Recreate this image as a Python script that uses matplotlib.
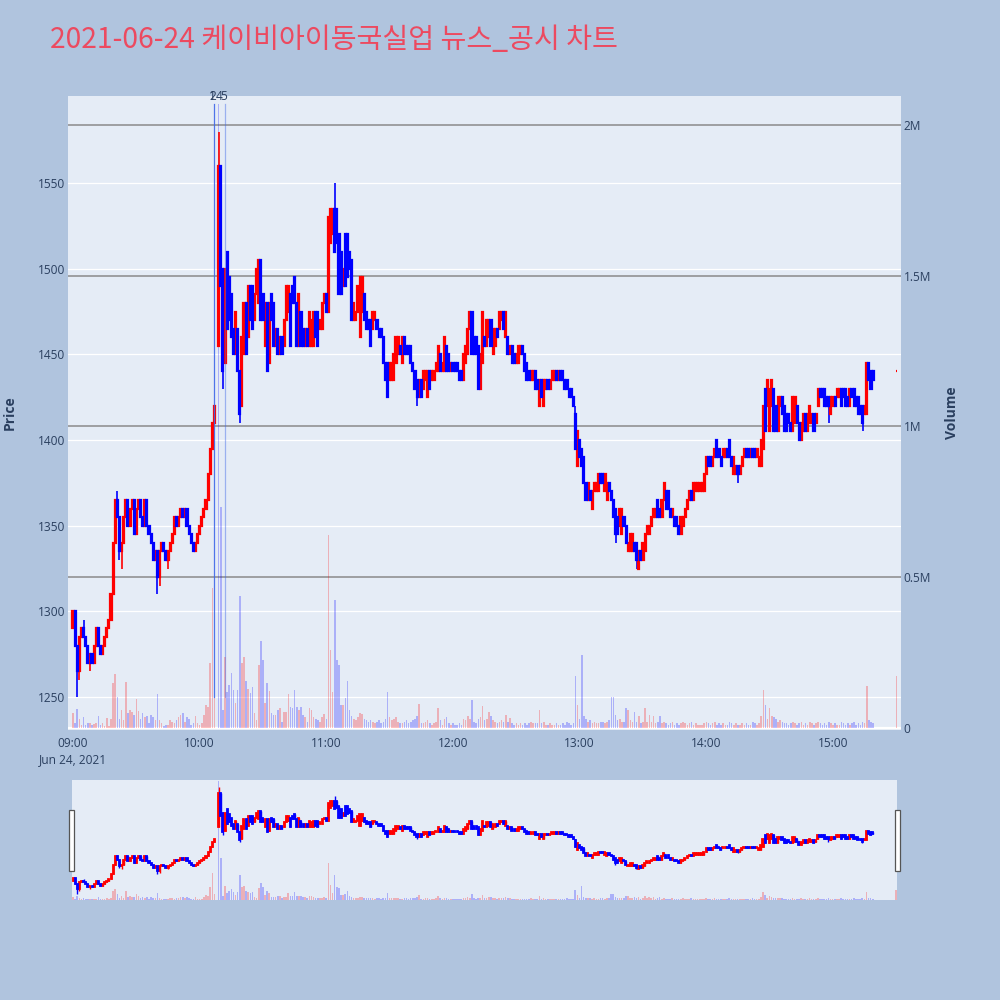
import numpy as np
import matplotlib
matplotlib.use('Agg')
import matplotlib.pyplot as plt
from matplotlib.patches import Rectangle
from matplotlib.transforms import blended_transform_factory

plt.rcParams['font.family'] = ['Open Sans', 'Noto Sans CJK KR', 'DejaVu Sans']

# ---------------- data (1-minute candles, index = minutes after 09:00) ----------------
opens = [
    1290,1300,1280,1265,1285,1290,1285,1280,1270,1275,
    1270,1280,1290,1280,1275,1280,1285,1290,1295,1310,
    1340,1365,1355,1335,1340,1355,1365,1350,1360,1365,
    1345,1360,1365,1355,1350,1365,1350,1345,1340,1330,
    1335,1320,1335,1340,1335,1330,1335,1340,1345,1355,
    1350,1355,1360,1355,1360,1350,1345,1340,1335,1340,
    1345,1350,1355,1360,1365,1380,1395,1410,
    None,
    1455,1560,1500,1445,1510,1495,1485,1465,1450,1465,
    1440,1420,1450,1480,1460,1490,1490,1470,1485,1480,
    1505,1485,1455,1480,1445,1485,1480,1455,1465,1450,
    1460,1455,1470,1475,1485,1490,1495,1480,1455,1475,
    1465,1455,1465,1455,
    1455,1455,1475,1475,1465,1465,1480,1485,1475,1515,
    1520,1535,1535,1520,1510,1490,1520,1520,1510,1505,
    1470,1470,1475,1460,1475,1485,1475,1470,1470,1465,
    1470,1470,1465,1465,1460,1445,1445,1435,1435,1435,
    1445,1450,1455,
    1445,1460,1455,1455,1455,1445,1440,1435,
    1425,1435,1430,1435,1425,1440,1435,1435,1440,1440,
    1450,1440,1440,1455,1450,1440,1445,1445,1445,1440,
    1440,1435,1445,1450,1465,1475,1460,1460,1455,1430,
    1445,1460,1455,1460,1470,1450,1455,1465,1465,1470,
    1475,1460,1460,1450,1455,1450,1445,1445,1450,1455,
    1450,1445,1440,1435,1435,1440,1435,1420,1435,1420,
    1430,1435,1430,1435,1435,1440,1435,1440,1440,1435,
    1435,1430,1430,1425,
    1415,1385,1400,1395,1390,1375,1365,1370,1360,1370,
    1370,1370,1380,1380,1370,1365,1375,1370,1365,1360,
    1355,1350,1345,1355,1350,1335,1335,1335,1340,1340,
    1325,1335,1330,1335,1345,1345,1350,1355,1355,1365,
    1360,1355,1365,1370,1370,1360,1355,1355,1355,1350,
    1345,1350,1355,1360,1365,1370,1365,1370,1370,1370,
    1370,1370,1380,1390,1390,1385,1390,1400,1395,1390,
    1390,1390,1395,1400,1390,1380,1380,1385,1380,1385,
    1390,1395,1395,1390,1395,1395,1390,1385,
    1385,1395,1430,1420,1405,1420,1430,1420,1405,1420,
    1425,1420,1415,1415,1410,1405,1410,1420,1410,1400,
    1405,1415,1405,1410,1410,1415,1410,1420,1430,1430,
    1430,1425,1425,1415,1420,1425,1425,1425,1430,1430,
    1430,1425,1420,1430,1430,1425,1425,1420,1420,1415,
    1415,1445,1440,1440,
]
closes = [
    1300,1280,1265,1285,1290,1285,1280,1270,1275,1270,
    1280,1290,1280,1275,1280,1285,1290,1295,1310,1340,
    1365,1355,1335,1340,1355,1365,1350,1360,1365,1345,
    1360,1365,1355,1350,1365,1350,1345,1340,1330,1335,
    1320,1335,1340,1335,1330,1335,1340,1345,1355,1350,
    1355,1360,1355,1360,1350,1345,1340,1335,1340,1345,
    1350,1355,1360,1365,1380,1395,1410,1420,
    None,
    1560,1490,1440,1500,1465,1470,1460,1450,1475,1440,
    1415,1460,1480,1450,1490,1470,1465,1485,1500,1505,
    1470,1470,1480,1440,1480,1470,1455,1465,1450,1460,
    1450,1470,1490,1490,1455,1480,1480,1455,1485,1455,
    1455,1465,1455,1475,
    1470,1475,1460,1455,1470,1480,1485,1475,1530,1535,
    1535,1510,1515,1485,1485,1500,1490,1495,1500,1470,
    1480,1475,1490,1495,1495,1470,1465,1465,1455,1475,
    1475,1465,1460,1460,1445,1435,1425,1445,1445,1450,
    1460,1460,1450,
    1460,1450,1450,1450,1445,1440,1430,1425,
    1435,1425,1440,1440,1440,1430,1440,1440,1445,1455,
    1440,1445,1460,1440,1440,1445,1440,1440,1440,1435,
    1435,1450,1455,1465,1475,1450,1450,1450,1430,1450,
    1475,1455,1470,1470,1455,1465,1465,1460,1475,1475,
    1465,1475,1450,1455,1445,1445,1450,1455,1455,1450,
    1440,1435,1435,1440,1440,1430,1430,1435,1425,1435,
    1435,1430,1435,1440,1440,1435,1440,1435,1435,1430,
    1430,1425,1425,1420,
    1395,1405,1390,1385,1375,1365,1375,1365,1370,1375,
    1375,1380,1375,1375,1380,1375,1370,1365,1355,1345,
    1345,1360,1360,1350,1340,1340,1345,1345,1335,1330,
    1335,1330,1340,1345,1350,1350,1355,1360,1360,1355,
    1355,1365,1375,1360,1360,1355,1360,1350,1350,1345,
    1355,1355,1360,1365,1370,1365,1375,1375,1375,1375,
    1375,1380,1390,1385,1385,1390,1395,1390,1390,1385,
    1395,1395,1390,1390,1385,1390,1385,1380,1385,1390,
    1395,1390,1390,1395,1390,1390,1395,1390,
    1400,1420,1405,1435,1430,1435,1405,1405,1425,1425,
    1415,1405,1405,1410,1405,1425,1425,1410,1400,1410,
    1415,1405,1415,1420,1415,1405,1415,1430,1425,1425,
    1420,1420,1420,1425,1425,1420,1430,1430,1420,1425,
    1420,1420,1430,1425,1420,1420,1415,1415,1410,1420,
    1445,1435,1430,1435,
]
# extra wick extremes {candle index: price}
wick_high = {1: 1300, 5: 1295, 21: 1370, 69: 1580, 124: 1550, 238: 1420}
wick_low = {2: 1250, 3: 1260, 8: 1265, 22: 1330, 23: 1325, 40: 1310, 41: 1315,
            45: 1325, 71: 1430, 79: 1410, 136: 1460, 163: 1420, 221: 1420,
            257: 1340, 267: 1325, 315: 1375, 358: 1410, 374: 1405}
# volume, thousand shares
volumes_k = [
    49,15,62,29,10,35,10,18,15,10,
    13,15,40,10,15,8,32,5,30,148,
    179,104,29,60,25,152,49,60,54,43,
    97,57,29,49,35,40,18,43,35,25,
    113,25,15,5,10,10,25,20,15,25,
    35,43,49,20,38,30,10,15,40,15,
    10,15,43,76,70,215,464,100,
    0,
    2070,734,60,236,120,143,182,126,82,126,
    438,217,235,157,128,115,137,49,27,209,
    287,224,82,148,124,49,43,43,60,65,
    21,54,54,113,71,65,126,71,60,71,
    43,38,21,65,
    60,38,30,25,20,35,45,30,
    640,260,120,425,225,209,76,76,100,156,
    60,40,30,25,35,50,45,30,25,20,
    25,20,15,20,25,15,20,30,120,35,
    25,30,35,20,15,
    15,20,25,15,20,25,30,40,
    80,15,15,20,25,15,10,15,20,66,
    25,10,30,35,15,10,15,10,10,15,
    10,30,25,40,30,93,20,15,30,35,
    73,25,30,53,40,25,20,15,20,25,
    20,43,20,33,15,10,15,10,15,10,
    15,10,15,20,15,15,15,60,15,20,
    10,10,15,10,10,15,10,10,15,10,
    20,15,10,15,
    173,76,30,242,40,30,20,25,15,20,
    15,15,20,20,15,20,25,103,103,43,
    25,30,20,20,66,60,25,20,53,20,
    40,15,20,66,20,43,20,40,15,20,
    40,15,20,15,10,15,20,10,15,10,
    15,20,15,10,15,20,10,15,10,10,
    10,15,20,15,10,15,20,10,15,10,
    15,10,10,20,15,10,15,10,10,15,
    10,15,10,10,20,15,10,15,
    40,126,76,30,66,40,35,30,20,25,
    20,15,15,10,15,20,15,10,15,20,
    10,15,10,20,15,10,15,20,15,10,
    15,10,20,15,10,15,10,10,20,15,
    10,15,10,15,20,10,15,10,20,15,
    139,25,20,15,
]
volume_colour_override = {69: 'down'}
# closing single-price auction at 15:30
auction_minute = 390
auction_open, auction_close, auction_volume_k = 1440, 1440, 173

# news markers (minutes after 09:00)
news_labels = ['1', '2', '4', '5']
news_label_minutes = [66.2, 66.2, 69.1, 71.4]
news_line_minutes = [66.8, 72.0]

hour_ticks = [0, 60, 120, 180, 240, 300, 360]
hour_labels = ['09:00\nJun 24, 2021', '10:00', '11:00', '12:00', '13:00', '14:00', '15:00']
price_ticks = [1250, 1300, 1350, 1400, 1450, 1500, 1550]
volume_ticks = [0, 0.5e6, 1e6, 1.5e6, 2e6]
volume_tick_labels = ['0', '0.5M', '1M', '1.5M', '2M']

# ---------------- preparation ----------------
x = np.append(np.arange(len(closes), dtype=float), auction_minute)
O = np.array(opens + [auction_open], dtype=float)
C = np.array(closes + [auction_close], dtype=float)
V = np.array(volumes_k + [auction_volume_k], dtype=float) * 1000
H = np.fmax(O, C)
L = np.fmin(O, C)
for i, v in wick_high.items():
    H[i] = max(H[i], v)
for i, v in wick_low.items():
    L[i] = min(L[i], v)
valid = ~np.isnan(C)
up = valid & (C >= O)
down = valid & (C < O)
vup = up.copy()
vdown = down.copy()
for i, d in volume_colour_override.items():
    vup[i] = d == 'up'
    vdown[i] = d == 'down'

RED = '#ff0000'
BLUE = '#0000ff'
BG = '#e5ecf6'
PAPER = '#b0c4de'
TXT = '#2a3f5f'
PRICE_LIM = (1230.74, 1600.78)
VOL_LIM = (-6633, 2.0961e6)

fig = plt.figure(figsize=(10, 10), dpi=100, facecolor=PAPER)

def draw_candles(axis, wick_lw, edge_lw, body_w):
    for m, col in ((up, RED), (down, BLUE)):
        axis.vlines(x[m], L[m], H[m], color=col, lw=wick_lw, zorder=3)
        axis.bar(x[m], np.abs(C - O)[m], bottom=np.fmin(O, C)[m], width=body_w,
                 color=col, edgecolor=col, linewidth=edge_lw, zorder=4)

def draw_volume(axis):
    axis.bar(x[vup], V[vup], width=0.75, color=RED, alpha=0.25, linewidth=0, zorder=2)
    axis.bar(x[vdown], V[vdown], width=0.75, color=BLUE, alpha=0.25, linewidth=0, zorder=2)

# ---------------- main chart ----------------
L0, B0, W0, H0 = 0.068, 0.270, 0.833, 0.634
axv = fig.add_axes([L0, B0, W0, H0])                 # volume layer (bottom), right axis
axp = fig.add_axes([L0, B0, W0, H0], sharex=axv)     # price layer (top), left axis
axv.set_zorder(1)
axp.set_zorder(2)
axp.patch.set_visible(False)
axv.set_facecolor(BG)

XLIM = (-2.37, 392.2)
axv.set_xlim(*XLIM)
axv.set_ylim(*VOL_LIM)
axp.set_ylim(*PRICE_LIM)

# price grid (white) drawn on the bottom layer
tr = blended_transform_factory(axv.transAxes, axp.transData)
for p in price_ticks:
    axv.plot([0, 1], [p, p], transform=tr, color='white', lw=0.9, zorder=0.5)
for v in volume_ticks[1:]:
    axv.axhline(v, color='#8a8a8a', lw=1.1, zorder=0.6)
axv.axhline(0, color='white', lw=1.6, zorder=0.6)

draw_volume(axv)
draw_candles(axp, 1.2, 1.6, 0.5)

# news markers
trn = blended_transform_factory(axp.transData, axp.transAxes)
axp.axvline(news_line_minutes[0], ymin=0.052, ymax=0.987, color='#3f67e8', lw=0.9, alpha=0.9, zorder=5)
axp.axvline(news_line_minutes[1], ymin=0.052, ymax=0.987, color='#3f67e8', lw=0.9, alpha=0.45, zorder=5)
for lab, xm in zip(news_labels, news_label_minutes):
    axp.text(xm, 0.9985, lab, transform=trn, ha='center', va='center',
             fontsize=8.6, color=TXT, clip_on=False, zorder=6)

# axes styling
for a in (axv, axp):
    for s in a.spines.values():
        s.set_visible(False)
axp.set_xticks(hour_ticks)
axp.set_xticklabels(hour_labels)
axp.tick_params(axis='x', length=0, pad=5, labelsize=8.6, labelcolor=TXT)
for t in axp.get_xticklabels():
    t.set_linespacing(1.35)
axv.tick_params(axis='x', labelbottom=False, length=0)
axp.set_yticks(price_ticks)
axp.set_yticklabels([str(p) for p in price_ticks])
axp.tick_params(axis='y', length=0, pad=2, labelsize=8.6, labelcolor=TXT)
axv.yaxis.tick_right()
axv.set_yticks(volume_ticks)
axv.set_yticklabels(volume_tick_labels)
axv.tick_params(axis='y', length=0, pad=2, labelsize=8.6, labelcolor=TXT)
axv.grid(False)
axp.grid(False)

fig.text(0.010, 0.587, 'Price', rotation=90, ha='center', va='center',
         fontsize=10, fontweight='bold', color=TXT)
fig.text(0.952, 0.587, 'Volume', rotation=90, ha='center', va='center',
         fontsize=10, fontweight='bold', color=TXT)
fig.text(0.050, 0.960, '2021-06-24 케이비아이동국실업 뉴스_공시 차트', ha='left', va='center',
         fontsize=20.3, color='#ec4a60', family=['Noto Sans CJK KR', 'DejaVu Sans'])

# ---------------- range slider ----------------
sv = fig.add_axes([0.072, 0.100, 0.825, 0.120])
sp = fig.add_axes([0.072, 0.100, 0.825, 0.120], sharex=sv)
sv.set_zorder(1)
sp.set_zorder(2)
sp.patch.set_visible(False)
sv.set_facecolor(BG)
sv.set_xlim(-0.5, 390.5)
sv.set_ylim(*VOL_LIM)
sp.set_ylim(*PRICE_LIM)
draw_volume(sv)
draw_candles(sp, 1.0, 1.3, 0.5)
for a in (sv, sp):
    a.set_xticks([])
    a.set_yticks([])
    for s in a.spines.values():
        s.set_visible(False)

for hx in (0.0692, 0.8952):
    fig.patches.append(Rectangle((hx, 0.129), 0.0044, 0.061, transform=fig.transFigure,
                                 facecolor='white', edgecolor='#555555', lw=0.9, zorder=10))

fig.savefig('out.png', dpi=100, facecolor=PAPER)
